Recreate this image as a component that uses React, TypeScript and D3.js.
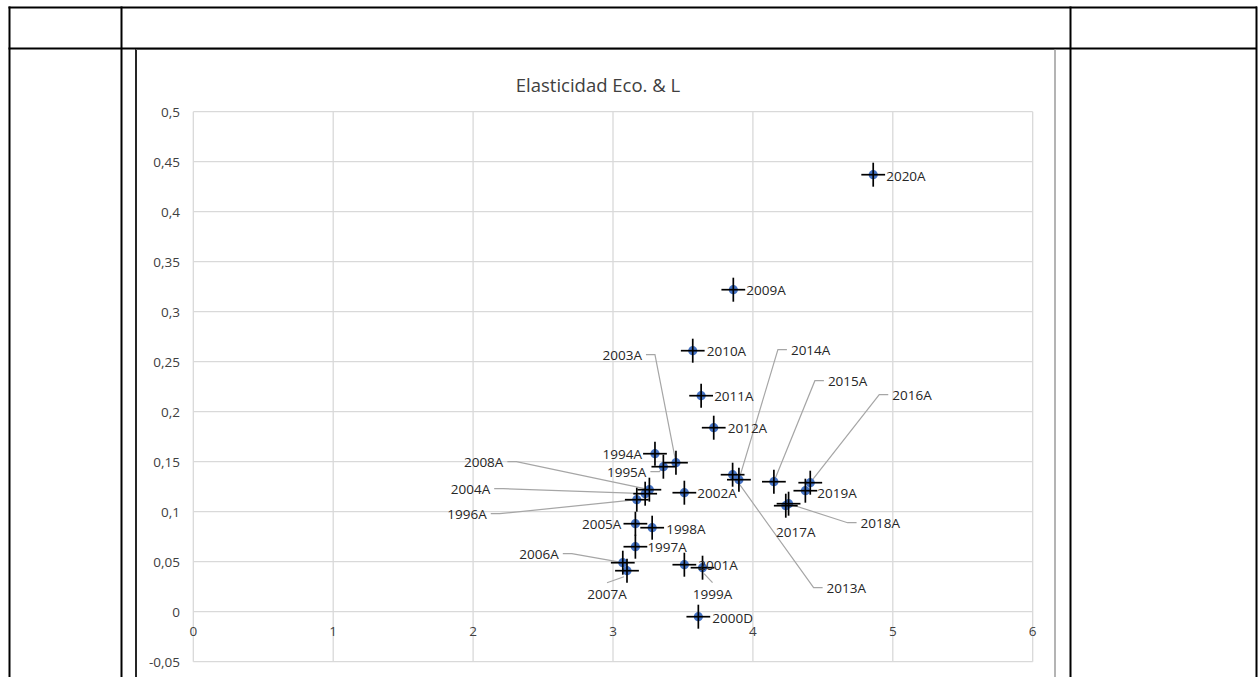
import React from "react";
import * as d3 from "d3";

// ---- data ----
const names = [
  "1994A", "1995A", "1996A", "1997A", "1998A", "1999A", "2000D", "2001A", "2002A", "2003A",
  "2004A", "2005A", "2006A", "2007A", "2008A", "2009A", "2010A", "2011A", "2012A", "2013A",
  "2014A", "2015A", "2016A", "2017A", "2018A", "2019A", "2020A",
];
const xValues = [
  3.30, 3.36, 3.17, 3.16, 3.28, 3.64, 3.61, 3.51, 3.51, 3.45,
  3.23, 3.16, 3.07, 3.10, 3.26, 3.86, 3.57, 3.63, 3.72, 3.855,
  3.90, 4.15, 4.41, 4.235, 4.255, 4.375, 4.86,
];
const yValues = [
  0.158, 0.145, 0.112, 0.065, 0.084, 0.044, -0.005, 0.047, 0.119, 0.149,
  0.118, 0.088, 0.049, 0.041, 0.122, 0.322, 0.261, 0.216, 0.184, 0.137,
  0.132, 0.130, 0.129, 0.106, 0.108, 0.121, 0.437,
];
const xError = 0.085;
const yError = 0.012;

const xTicks = [0, 1, 2, 3, 4, 5, 6];
const xTickLabels = ["0", "1", "2", "3", "4", "5", "6"];
const yTicks = [-0.05, 0, 0.05, 0.1, 0.15, 0.2, 0.25, 0.3, 0.35, 0.4, 0.45, 0.5];
const yTickLabels = ["-0,05", "0", "0,05", "0,1", "0,15", "0,2", "0,25", "0,3", "0,35", "0,4", "0,45", "0,5"];

const title = "Elasticidad Eco. & L";

// label placement (pixel offsets from the point): [dx, dy, anchor, leader]
type Place = [number, number, "start" | "end" | "middle", boolean];
const labelPlacement: Record<string, Place> = {
  "1994A": [-13, 0, "end", false],
  "1995A": [-17, 5, "end", true],
  "1996A": [-150, 14, "end", true],
  "1997A": [12, 0, "start", false],
  "1998A": [14, 1, "start", false],
  "1999A": [10, 26, "middle", true],
  "2000D": [14, 1, "start", false],
  "2001A": [14, 0, "start", false],
  "2002A": [13, 0, "start", false],
  "2003A": [-34, -108, "end", true],
  "2004A": [-155, -5, "end", true],
  "2005A": [-14, 0, "end", false],
  "2006A": [-64, -9, "end", true],
  "2007A": [-20, 23, "middle", true],
  "2008A": [-146, -28, "end", true],
  "2009A": [13, 0, "start", false],
  "2010A": [14, 0, "start", false],
  "2011A": [13, 0, "start", false],
  "2012A": [14, 0, "start", false],
  "2013A": [94, 113, "start", true],
  "2014A": [52, -130, "start", true],
  "2015A": [54, -101, "start", true],
  "2016A": [82, -88, "start", true],
  "2017A": [10, 26, "middle", false],
  "2018A": [72, 19, "start", true],
  "2019A": [12, 2, "start", false],
  "2020A": [13, 1, "start", false],
};

const W = 1259;
const H = 677;
const FONT = "'Open Sans', 'Liberation Sans', sans-serif";

export default function App() {
  const x = d3.scaleLinear().domain([0, 6]).range([193.3, 1032.7]);
  const y = d3.scaleLinear().domain([-0.05, 0.5]).range([661.7, 111.7]);

  const pts = names.map((n, i) => ({ name: n, px: x(xValues[i]), py: y(yValues[i]), xv: xValues[i], yv: yValues[i] }));

  const line = d3.line<[number, number]>();

  return (
    <div style={{ position: "absolute", left: 0, top: 0, width: W, height: H, background: "#fff" }}>
      <svg width={W} height={H} style={{ display: "block" }}>
        <rect x={0} y={0} width={W} height={H} fill="#fff" />
        {/* table */}
        <g stroke="#000" strokeWidth={2} fill="none">
          <line x1={8.5} x2={1257} y1={7.5} y2={7.5} />
          <line x1={8.5} x2={1257} y1={48.5} y2={48.5} />
          <line x1={9.5} x2={9.5} y1={6.5} y2={H} />
          <line x1={121.5} x2={121.5} y1={6.5} y2={H} />
          <line x1={1070.5} x2={1070.5} y1={6.5} y2={H} />
          <line x1={1256.5} x2={1256.5} y1={6.5} y2={H} />
        </g>
        {/* chart frame */}
        <line x1={136} x2={136} y1={49} y2={H} stroke="#262626" strokeWidth={2} />
        <line x1={136} x2={1055} y1={49.5} y2={49.5} stroke="#595959" strokeWidth={1.2} />
        <line x1={1055} x2={1055} y1={49} y2={H} stroke="#8c8c8c" strokeWidth={1.3} />

        {/* title */}
        <text x={598} y={84} textAnchor="middle" dominantBaseline="central" fontFamily={FONT} fontSize={18.5} fill="#404040">
          {title}
        </text>

        {/* grid */}
        <g stroke="#d9d9d9" strokeWidth={1.3}>
          {yTicks.map((t) => (
            <line key={"h" + t} x1={x(0)} x2={x(6)} y1={y(t)} y2={y(t)} />
          ))}
          {xTicks.map((t) => (
            <line key={"v" + t} x1={x(t)} x2={x(t)} y1={y(-0.05)} y2={y(0.5)} />
          ))}
        </g>

        {/* tick labels */}
        <g fontFamily={FONT} fontSize={13.5} fill="#404040">
          {yTicks.map((t, i) => (
            <text key={"yl" + t} x={180} y={y(t)} textAnchor="end" dominantBaseline="central">
              {yTickLabels[i]}
            </text>
          ))}
          {xTicks.map((t, i) => (
            <text key={"xl" + t} x={x(t)} y={y(0) + 19} textAnchor="middle" dominantBaseline="central">
              {xTickLabels[i]}
            </text>
          ))}
        </g>

        {/* leader lines */}
        <g stroke="#a6a6a6" strokeWidth={1.2} fill="none">
          {pts.map((p) => {
            const [dx, dy, anchor, leader] = labelPlacement[p.name];
            if (!leader) return null;
            const lx = p.px + dx;
            const ly = p.py + dy;
            let path: [number, number][];
            if (anchor === "end") {
              path = [[lx + 4, ly], [lx + 13, ly], [p.px, p.py]];
            } else if (anchor === "start") {
              path = [[lx - 4, ly], [lx - 13, ly], [p.px, p.py]];
            } else {
              path = [[lx, ly - 11], [p.px + (lx - p.px) * 0.15, p.py + 6]];
            }
            return <path key={"ld" + p.name} d={line(path) || ""} />;
          })}
        </g>

        {/* markers */}
        <g fill="#4472c4">
          {pts.map((p) => (
            <circle key={"c" + p.name} cx={p.px} cy={p.py} r={4.6} />
          ))}
        </g>
        {/* error bars */}
        <g stroke="#000" strokeWidth={1.7}>
          {pts.map((p) => (
            <g key={"e" + p.name}>
              <line x1={x(p.xv - xError)} x2={x(p.xv + xError)} y1={p.py} y2={p.py} />
              <line x1={p.px} x2={p.px} y1={y(p.yv - yError)} y2={y(p.yv + yError)} />
            </g>
          ))}
        </g>

        {/* data labels */}
        <g fontFamily={FONT} fontSize={13.5} fill="#262626">
          {pts.map((p) => {
            const [dx, dy, anchor] = labelPlacement[p.name];
            return (
              <text key={"t" + p.name} x={p.px + dx} y={p.py + dy} textAnchor={anchor} dominantBaseline="central">
                {p.name}
              </text>
            );
          })}
        </g>
      </svg>
    </div>
  );
}
